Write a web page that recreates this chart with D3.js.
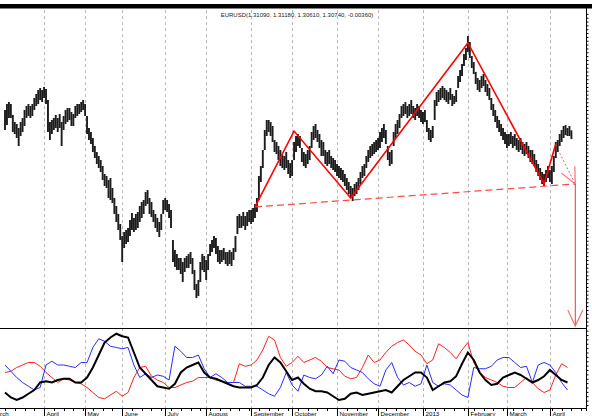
<!DOCTYPE html>
<html>
<head>
<meta charset="utf-8">
<script src="https://cdn.jsdelivr.net/npm/d3@7"></script>
<style>
  body { margin: 0; background: #fff; }
  svg { display: block; }
  text { font-family: "Liberation Sans", Arial, sans-serif; }
</style>
</head>
<body>
<script>
// daily EURUSD bars, March 2012 - April 2013
var highs = [
  1.3250,1.3289,1.3302,1.3289,1.3218,1.3172,1.3159,1.3133,1.3172,1.3198,
  1.3250,1.3276,1.3289,1.3276,1.3289,1.3328,1.3354,1.3380,1.3393,1.3380,
  1.3400,1.3386,1.3315,1.3172,1.3185,1.3198,1.3218,1.3198,1.3224,1.3172,
  1.3211,1.3250,1.3263,1.3263,1.3237,1.3224,1.3276,1.3289,1.3289,1.3302,
  1.3315,1.3289,1.3211,1.3133,1.3107,1.3068,1.3016,1.2977,1.2951,1.2925,
  1.2886,1.2834,1.2821,1.2795,1.2808,1.2743,1.2678,1.2626,1.2574,1.2509,
  1.2431,1.2457,1.2470,1.2483,1.2535,1.2580,1.2548,1.2574,1.2587,1.2626,
  1.2652,1.2665,1.2717,1.2730,1.2678,1.2652,1.2600,1.2574,1.2548,1.2522,
  1.2574,1.2665,1.2678,1.2665,1.2639,1.2600,1.2405,1.2340,1.2314,1.2288,
  1.2288,1.2262,1.2288,1.2301,1.2314,1.2327,1.2288,1.2210,1.2119,1.2145,
  1.2262,1.2314,1.2301,1.2275,1.2314,1.2379,1.2405,1.2431,1.2418,1.2366,
  1.2340,1.2340,1.2353,1.2327,1.2327,1.2340,1.2327,1.2353,1.2431,1.2561,
  1.2574,1.2561,1.2587,1.2561,1.2587,1.2600,1.2600,1.2613,1.2639,1.2678,
  1.2821,1.2886,1.2990,1.3120,1.3185,1.3185,1.3172,1.3146,1.3055,1.3042,
  1.3016,1.2990,1.2958,1.2951,1.2977,1.2925,1.2905,1.2925,1.3042,1.3081,
  1.3094,1.3081,1.3003,1.2977,1.2964,1.2990,1.3016,1.3107,1.3146,1.3159,
  1.3120,1.3094,1.3055,1.3042,1.2990,1.2977,1.2990,1.2951,1.2938,1.2925,
  1.2899,1.2886,1.2873,1.2860,1.2834,1.2808,1.2782,1.2756,1.2743,1.2769,
  1.2782,1.2808,1.2847,1.2886,1.2899,1.2951,1.2990,1.3016,1.3029,1.3042,
  1.3055,1.3068,1.3107,1.3133,1.3159,1.3120,1.3016,1.2977,1.2990,1.3107,
  1.3159,1.3185,1.3224,1.3276,1.3289,1.3302,1.3276,1.3289,1.3315,1.3276,
  1.3263,1.3289,1.3276,1.3250,1.3237,1.3250,1.3185,1.3133,1.3120,1.3146,
  1.3315,1.3367,1.3380,1.3393,1.3406,1.3393,1.3380,1.3367,1.3393,1.3354,
  1.3341,1.3380,1.3471,1.3510,1.3549,1.3614,1.3653,1.3731,1.3692,1.3601,
  1.3562,1.3497,1.3458,1.3445,1.3471,1.3484,1.3445,1.3419,1.3393,1.3328,
  1.3289,1.3250,1.3211,1.3185,1.3159,1.3133,1.3107,1.3094,1.3094,1.3107,
  1.3081,1.3094,1.3068,1.3055,1.3068,1.3042,1.3029,1.3042,1.3016,1.2990,
  1.2990,1.2964,1.2925,1.2899,1.2873,1.2847,1.2834,1.2860,1.2886,1.2860,
  1.2886,1.2951,1.3042,1.3055,1.3094,1.3120,1.3146,1.3152,1.3133,1.3146,1.3118
];
var lows = [
  1.3120,1.3152,1.3198,1.3198,1.3107,1.3094,1.3068,1.3016,1.3081,1.3107,
  1.3146,1.3198,1.3211,1.3198,1.3211,1.3250,1.3276,1.3289,1.3315,1.3302,
  1.3328,1.3289,1.3107,1.3055,1.3094,1.3120,1.3133,1.3107,1.3133,1.3016,
  1.3120,1.3159,1.3172,1.3185,1.3146,1.3146,1.3198,1.3211,1.3224,1.3237,
  1.3250,1.3211,1.3094,1.3055,1.3029,1.2977,1.2938,1.2899,1.2873,1.2847,
  1.2795,1.2756,1.2743,1.2678,1.2665,1.2645,1.2574,1.2522,1.2470,1.2405,
  1.2262,1.2353,1.2379,1.2392,1.2431,1.2470,1.2457,1.2470,1.2483,1.2522,
  1.2548,1.2574,1.2626,1.2639,1.2574,1.2554,1.2522,1.2483,1.2457,1.2424,
  1.2470,1.2574,1.2600,1.2587,1.2548,1.2483,1.2262,1.2230,1.2210,1.2210,
  1.2184,1.2132,1.2197,1.2223,1.2223,1.2249,1.2184,1.2080,1.2028,1.2041,
  1.2132,1.2210,1.2197,1.2145,1.2210,1.2301,1.2327,1.2353,1.2314,1.2262,
  1.2249,1.2262,1.2275,1.2249,1.2236,1.2249,1.2236,1.2275,1.2327,1.2444,
  1.2483,1.2483,1.2496,1.2470,1.2496,1.2522,1.2509,1.2522,1.2548,1.2587,
  1.2665,1.2782,1.2873,1.2990,1.3081,1.3107,1.3081,1.3042,1.2977,1.2964,
  1.2925,1.2886,1.2873,1.2860,1.2873,1.2834,1.2808,1.2821,1.2925,1.2977,
  1.3016,1.3003,1.2912,1.2886,1.2873,1.2899,1.2925,1.3003,1.3055,1.3068,
  1.3042,1.3003,1.2951,1.2951,1.2899,1.2886,1.2899,1.2873,1.2860,1.2847,
  1.2821,1.2808,1.2795,1.2782,1.2756,1.2730,1.2704,1.2678,1.2658,1.2691,
  1.2704,1.2730,1.2769,1.2808,1.2821,1.2873,1.2912,1.2938,1.2951,1.2964,
  1.2977,1.2990,1.3003,1.3042,1.3068,1.3029,1.2925,1.2886,1.2899,1.3016,
  1.3068,1.3094,1.3133,1.3198,1.3211,1.3224,1.3198,1.3211,1.3224,1.3198,
  1.3185,1.3211,1.3198,1.3172,1.3159,1.3172,1.3107,1.3055,1.3042,1.3068,
  1.3185,1.3276,1.3302,1.3315,1.3328,1.3315,1.3302,1.3289,1.3315,1.3276,
  1.3289,1.3302,1.3393,1.3432,1.3471,1.3536,1.3575,1.3627,1.3588,1.3523,
  1.3484,1.3419,1.3380,1.3367,1.3393,1.3406,1.3367,1.3341,1.3315,1.3250,
  1.3211,1.3172,1.3133,1.3107,1.3081,1.3055,1.3029,1.3003,1.3016,1.3029,
  1.3003,1.3016,1.2990,1.2977,1.2990,1.2964,1.2951,1.2964,1.2938,1.2912,
  1.2899,1.2886,1.2847,1.2821,1.2795,1.2769,1.2756,1.2782,1.2808,1.2782,
  1.2769,1.2847,1.2938,1.2977,1.3016,1.3042,1.3068,1.3087,1.3081,1.3081,1.3061
];

// indicator lines, one value every 3 bars
var indStep = 3;
var adxLine = [10,6,4,6,9,12,18,19,18,20,21,21,18,18,22,30,40,50,54,57,
  55,54,42,30,25,20,15,14,13,17,26,30,32,34,26,22,21,19,17,15,
  14,14,14,16,22,32,38,34,27,20,22,17,13,11,11,10,7,4,5,9,
  10,8,9,10,11,12,10,15,20,23,26,26,22,12,15,18,19,23,33,42,
  36,26,20,16,17,22,24,26,24,21,18,20,23,28,24,20,18];
var redLine = [26,27,30,32,34,34,31,26,22,18,21,20,18,17,14,10,6,5,8,11,
  7,10,22,30,31,23,20,18,14,14,16,18,19,22,22,22,20,19,18,18,
  33,31,32,36,44,55,52,38,31,34,39,34,36,38,35,30,29,28,23,21,
  22,30,40,34,36,42,47,50,52,48,43,40,33,36,49,46,42,37,44,50,
  34,26,22,20,18,15,14,14,18,22,18,13,10,12,24,33,30];
var blueLine = [32,27,22,18,15,12,14,32,35,32,32,31,30,34,34,46,53,51,47,46,
  45,46,32,22,25,22,24,23,20,47,43,38,38,40,29,22,25,22,18,18,
  18,15,15,15,12,9,7,14,26,16,11,24,22,21,24,31,25,36,35,30,
  28,26,21,17,15,28,34,22,16,18,15,17,32,18,15,17,16,12,8,6,
  30,29,29,31,36,38,38,34,30,31,18,32,34,32,26,18,12];

// month starts (bar index) and labels
var monthStart = [-8,20,41,60,82,103,126,147,170,191,214,237,257,279];
var monthLabels = ["March","April","May","June","July","August","September",
  "October","November","December","2013","February","March","April"];

// head and shoulders drawing (bar index, price)
var zigIdx = [128,148,177,237,276,282];
var zigPrice = [1.2620,1.3113,1.2678,1.3686,1.2769,1.3029];
var neckIdx = [128,292];
var neckPrice = [1.2620,1.2769];
var projIdx = [284,292];
var projPrice = [1.2970,1.2769];
var targetIdx = [292,292];
var targetPrice = [1.2769,1.1846];

var subtitle = "EURUSD(1.31090, 1.31180, 1.30610, 1.30740, -0.00360)";

var width = 592, height = 416;
var svg = d3.select("body").append("svg")
    .attr("width", width)
    .attr("height", height);

var axisX = 586, panelTop = 8, divY = 328, baseY = 408;

var x = d3.scaleLinear().domain([0, highs.length - 1]).range([5, 571.4]);
var y = d3.scaleLinear().domain([1.1833, 1.39]).range([divY, 10]);
var yInd = d3.scaleLinear().domain([0, 60]).range([405, 330]);

// arrow marker
svg.append("defs").append("marker")
    .attr("id", "arr")
    .attr("markerUnits", "userSpaceOnUse")
    .attr("markerWidth", 40).attr("markerHeight", 40)
    .attr("viewBox", "-20 -20 40 40")
    .attr("refX", 0).attr("refY", 0)
    .attr("orient", "auto")
    .append("path")
    .attr("d", "M-16,-7.5L0,0L-16,7.5")
    .attr("fill", "none")
    .attr("stroke", "#ff7070")
    .attr("stroke-width", 1.2);

// top band
svg.append("rect")
    .attr("x", 0).attr("y", 4)
    .attr("width", width).attr("height", 4.5)
    .attr("fill", "#000");

// month grid
svg.append("g").selectAll("line")
    .data(monthStart)
    .join("line")
    .attr("x1", function(d) { return Math.round(x(d)) + 0.5; })
    .attr("x2", function(d) { return Math.round(x(d)) + 0.5; })
    .attr("y1", 10).attr("y2", baseY)
    .attr("stroke", "#b8b8b8")
    .attr("stroke-dasharray", "3,3");

// subtitle
svg.append("text")
    .attr("x", 297).attr("y", 17)
    .attr("text-anchor", "middle")
    .attr("font-size", 6)
    .attr("fill", "#222")
    .text(subtitle);

// price bars
svg.append("g").selectAll("line")
    .data(highs)
    .join("line")
    .attr("x1", function(d, i) { return x(i); })
    .attr("x2", function(d, i) { return x(i); })
    .attr("y1", function(d) { return y(d); })
    .attr("y2", function(d, i) { return y(lows[i]); })
    .attr("stroke", "#1c1c1c")
    .attr("stroke-width", 1.9);

// pattern lines
var pline = d3.line()
    .x(function(d) { return x(d[0]); })
    .y(function(d) { return y(d[1]); });

svg.append("path")
    .attr("d", pline(d3.zip(neckIdx, neckPrice)))
    .attr("fill", "none")
    .attr("stroke", "#ff4a4a")
    .attr("stroke-width", 1.2)
    .attr("stroke-dasharray", "7,4");

svg.append("path")
    .attr("d", pline(d3.zip(zigIdx, zigPrice)))
    .attr("fill", "none")
    .attr("stroke", "#ff0000")
    .attr("stroke-width", 1.6);

svg.append("path")
    .attr("d", pline(d3.zip(projIdx, projPrice)))
    .attr("fill", "none")
    .attr("stroke", "#ff5a5a")
    .attr("stroke-width", 1)
    .attr("stroke-dasharray", "2,2")
    .attr("marker-end", "url(#arr)");

svg.append("path")
    .attr("d", pline(d3.zip(targetIdx, targetPrice)))
    .attr("fill", "none")
    .attr("stroke", "#ff3030")
    .attr("stroke-width", 1)
    .attr("marker-end", "url(#arr)");

// indicator panel
var iline = d3.line()
    .x(function(d, k) { return x(k * indStep); })
    .y(function(d) { return yInd(d); });

svg.append("path").attr("d", iline(redLine))
    .attr("fill", "none").attr("stroke", "#ff2020").attr("stroke-width", 1);
svg.append("path").attr("d", iline(blueLine))
    .attr("fill", "none").attr("stroke", "#2a2aff").attr("stroke-width", 1);
svg.append("path").attr("d", iline(adxLine))
    .attr("fill", "none").attr("stroke", "#000").attr("stroke-width", 2);

// panel divider
svg.append("line")
    .attr("x1", 0).attr("x2", axisX)
    .attr("y1", divY + 0.5).attr("y2", divY + 0.5)
    .attr("stroke", "#000");

// right axis (price), labels fall outside the picture
var priceAxis = d3.axisRight(y)
    .tickValues(d3.range(1.185, 1.39, 0.0025))
    .tickSize(2)
    .tickFormat("");
svg.append("g")
    .attr("transform", "translate(" + (axisX + 0.5) + ",0)")
    .call(priceAxis)
    .call(function(g) { g.select(".domain").remove(); });

var indAxis = d3.axisRight(yInd)
    .tickValues(d3.range(0, 61, 3.5))
    .tickSize(2)
    .tickFormat("");
svg.append("g")
    .attr("transform", "translate(" + (axisX + 0.5) + ",0)")
    .call(indAxis)
    .call(function(g) { g.select(".domain").remove(); });

svg.append("line")
    .attr("x1", axisX + 0.5).attr("x2", axisX + 0.5)
    .attr("y1", panelTop).attr("y2", baseY + 3)
    .attr("stroke", "#000");

// bottom time axis
svg.append("line")
    .attr("x1", 0).attr("x2", axisX + 1)
    .attr("y1", baseY + 0.5).attr("y2", baseY + 0.5)
    .attr("stroke", "#000");

svg.append("g").selectAll("line")
    .data(d3.range(0, highs.length + 8, 5))
    .join("line")
    .attr("x1", function(d) { return Math.round(x(d)) + 0.5; })
    .attr("x2", function(d) { return Math.round(x(d)) + 0.5; })
    .attr("y1", baseY).attr("y2", baseY + 3)
    .attr("stroke", "#000");

var months = svg.append("g").selectAll("g")
    .data(monthStart)
    .join("g")
    .attr("transform", function(d) { return "translate(" + (Math.round(x(d)) + 0.5) + ",0)"; });

months.append("line")
    .attr("y1", baseY).attr("y2", baseY + 8)
    .attr("stroke", "#000");

months.append("text")
    .attr("x", 2).attr("y", 415.5)
    .attr("font-size", 6.2)
    .attr("fill", "#000")
    .text(function(d, i) { return monthLabels[i]; });
</script>
</body>
</html>
